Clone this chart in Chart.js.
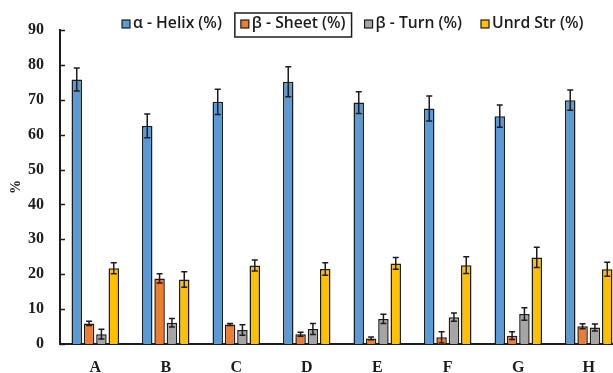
<!DOCTYPE html>
<html>
<head>
<meta charset="utf-8">
<script src="https://cdn.jsdelivr.net/npm/chart.js@4/dist/chart.umd.min.js"></script>
<style>
  html, body { margin: 0; padding: 0; background: #fff; overflow: hidden; width: 613px; height: 373px; }
  canvas { display: block; }
</style>
</head>
<body>
<canvas id="c" width="630" height="373"></canvas>
<script>
// Secondary structure content per sample (%), with standard deviations
const categories = ['A', 'B', 'C', 'D', 'E', 'F', 'G', 'H'];
const seriesNames = ['α - Helix (%)', 'β - Sheet (%)', 'β - Turn (%)', 'Unrd Str (%)'];

const helix      = [75.8, 62.5, 69.4, 75.2, 69.2, 67.5, 65.3, 69.9];
const helixErr   = [3.3, 3.4, 3.6, 4.3, 3.1, 3.6, 3.2, 2.9];
const sheet      = [5.9, 18.8, 5.6, 2.8, 1.6, 1.9, 2.4, 5.1];
const sheetErr   = [0.6, 1.3, 0.3, 0.6, 0.4, 1.6, 1.1, 0.7];
const turn       = [2.8, 6.1, 4.0, 4.3, 7.2, 7.7, 8.6, 4.7];
const turnErr    = [1.4, 1.2, 1.5, 1.6, 1.3, 1.2, 1.8, 1.0];
const unordered  = [21.7, 18.5, 22.5, 21.5, 23.1, 22.6, 24.8, 21.4];
const unorderedErr = [1.6, 2.2, 1.6, 1.8, 1.7, 2.4, 2.9, 2.0];

const yMin = 0, yMax = 90, yStep = 10;

const fills = ['#5B9BD5', '#ED7D31', '#A5A5A5', '#FFC000'];
const values = [helix, sheet, turn, unordered];
const errors = [helixErr, sheetErr, turnErr, unorderedErr];

const INK = '#1c1c1c';
const serifBold = { family: '"Liberation Serif", "Times New Roman", serif', size: 16, weight: 'bold' };

// Whiskers with caps for each bar
const errorBars = {
  id: 'errorBars',
  afterDatasetsDraw(chart) {
    const ctx = chart.ctx;
    const y = chart.scales.y;
    chart.data.datasets.forEach((ds, i) => {
      const meta = chart.getDatasetMeta(i);
      meta.data.forEach((bar, j) => {
        const v = ds.data[j], e = ds.errors[j];
        const yt = y.getPixelForValue(v + e);
        const yb = y.getPixelForValue(v - e);
        ctx.save();
        ctx.strokeStyle = INK;
        ctx.lineWidth = 1.5;
        ctx.beginPath();
        ctx.moveTo(bar.x, yt); ctx.lineTo(bar.x, yb);
        ctx.moveTo(bar.x - 3, yt); ctx.lineTo(bar.x + 3, yt);
        ctx.moveTo(bar.x - 3, yb); ctx.lineTo(bar.x + 3, yb);
        ctx.stroke();
        ctx.restore();
      });
    });
  }
};

// Short inward tick marks on the value axis
const innerTicks = {
  id: 'innerTicks',
  afterDraw(chart) {
    const ctx = chart.ctx;
    const y = chart.scales.y;
    const left = chart.chartArea.left;
    ctx.save();
    ctx.strokeStyle = INK;
    ctx.lineWidth = 1.5;
    ctx.beginPath();
    y.ticks.forEach(t => {
      const py = Math.round(y.getPixelForValue(t.value)) + 0.5;
      ctx.moveTo(left, py); ctx.lineTo(left + 5, py);
    });
    ctx.stroke();
    ctx.restore();
  }
};

// Single-row legend; the β - Sheet entry is framed
const legendRow = {
  id: 'legendRow',
  afterDraw(chart) {
    const ctx = chart.ctx;
    ctx.save();
    ctx.font = '600 15.7px "Open Sans", "Liberation Sans", sans-serif';
    ctx.textBaseline = 'middle';
    const cy = 24;
    let x = 122;
    chart.data.datasets.forEach((ds, i) => {
      ctx.fillStyle = ds.backgroundColor;
      ctx.fillRect(x, cy - 4, 8, 8);
      ctx.strokeStyle = INK;
      ctx.lineWidth = 1.2;
      ctx.strokeRect(x, cy - 4, 8, 8);
      const tx = x + 11;
      ctx.fillStyle = INK;
      ctx.fillText(ds.label, tx, cy);
      const w = ctx.measureText(ds.label).width;
      if (i === 1) {
        ctx.lineWidth = 1.5;
        ctx.strokeRect(x - 6, 13, tx + w + 6 - (x - 6), 24);
      }
      x = tx + w + 19;
    });
    ctx.restore();
  }
};

new Chart(document.getElementById('c'), {
  type: 'bar',
  data: {
    labels: categories,
    datasets: seriesNames.map((name, i) => ({
      label: name,
      data: values[i],
      errors: errors[i],
      backgroundColor: fills[i],
      borderColor: INK,
      borderWidth: 1.5,
      barPercentage: 0.85,
      categoryPercentage: 0.70
    }))
  },
  options: {
    responsive: false,
    animation: false,
    layout: { padding: { top: 30, right: 6, left: 0, bottom: 0 } },
    plugins: {
      legend: { display: false },
      tooltip: { enabled: false }
    },
    scales: {
      x: {
        grid: { display: false, drawTicks: false },
        border: { display: true, color: INK, width: 2 },
        ticks: { color: INK, font: serifBold, padding: 14 },
        afterFit(scale) { scale.height = 29; }
      },
      y: {
        min: yMin,
        max: yMax,
        grid: { display: false, drawTicks: false },
        border: { display: true, color: INK, width: 2 },
        ticks: { stepSize: yStep, color: INK, font: serifBold, padding: 16 },
        title: { display: true, text: '%', color: INK, font: { family: serifBold.family, size: 14, weight: 'bold' }, padding: { top: 8, bottom: 0 } },
        afterFit(scale) { scale.width = 60; }
      }
    }
  },
  plugins: [errorBars, innerTicks, legendRow]
});
</script>
</body>
</html>
